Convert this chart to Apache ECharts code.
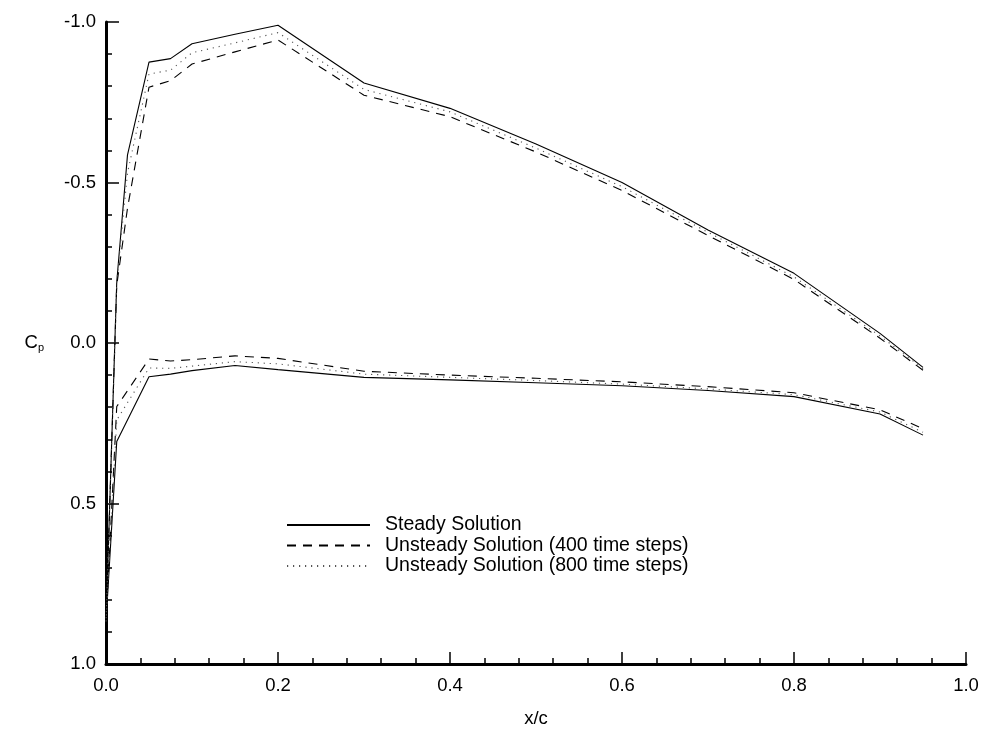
<!DOCTYPE html>
<html>
<head>
<meta charset="utf-8">
<title>Surface pressure coefficient</title>
<script src="https://cdn.jsdelivr.net/npm/echarts@6/dist/echarts.min.js"></script>
<style>
  html, body { margin: 0; padding: 0; background: #ffffff; }
  #chart { width: 984px; height: 739px; }
</style>
</head>
<body>
<div id="chart"></div>
<script>
// Chordwise stations (x/c) on the upper and lower surfaces
const upperX = [0, 0.0125, 0.025, 0.05, 0.075, 0.1, 0.15, 0.2, 0.3, 0.4, 0.5, 0.6, 0.7, 0.8, 0.9, 0.95];
const lowerX = [0.0125, 0.05, 0.075, 0.1, 0.15, 0.2, 0.3, 0.4, 0.5, 0.6, 0.7, 0.8, 0.9, 0.95];

// Pressure coefficient, upper surface
const steadyUpper = [0.87, -0.19, -0.586, -0.875, -0.886, -0.932, -0.962, -0.99, -0.81, -0.731, -0.62, -0.50, -0.352, -0.217, -0.03, 0.076];
const unsteady400Upper = [0.87, -0.18, -0.42, -0.797, -0.817, -0.869, -0.907, -0.944, -0.772, -0.705, -0.595, -0.475, -0.335, -0.198, -0.015, 0.085];
const unsteady800Upper = [0.87, -0.19, -0.53, -0.838, -0.85, -0.904, -0.935, -0.967, -0.79, -0.72, -0.607, -0.487, -0.345, -0.206, -0.022, 0.08];

// Pressure coefficient, lower surface
const steadyLower = [0.307, 0.105, 0.097, 0.086, 0.07, 0.083, 0.107, 0.115, 0.124, 0.133, 0.148, 0.167, 0.221, 0.287];
const unsteady400Lower = [0.198, 0.05, 0.056, 0.052, 0.04, 0.048, 0.088, 0.1, 0.11, 0.121, 0.136, 0.155, 0.208, 0.267];
const unsteady800Lower = [0.24, 0.078, 0.079, 0.072, 0.058, 0.065, 0.097, 0.107, 0.117, 0.128, 0.143, 0.161, 0.215, 0.278];

const seriesNames = ['Steady Solution', 'Unsteady Solution (400 time steps)', 'Unsteady Solution (800 time steps)'];
const yTicks = [-1.0, -0.5, 0.0, 0.5, 1.0];
const xTicks = [0.0, 0.2, 0.4, 0.6, 0.8, 1.0];

// One trace per solution: trailing edge -> upper surface -> leading edge -> lower surface
function surfaceTrace(upper, lower) {
  const pts = [];
  for (let i = upperX.length - 1; i >= 0; i--) pts.push([upperX[i], upper[i]]);
  for (let i = 0; i < lowerX.length; i++) pts.push([lowerX[i], lower[i]]);
  return pts;
}

const font = 'Liberation Sans, Arial, Helvetica, sans-serif';
const chart = echarts.init(document.getElementById('chart'), null, { renderer: 'canvas' });

const lineStyles = [
  { color: '#000000', width: 1.1, type: 'solid' },
  { color: '#000000', width: 1.1, type: [9, 7] },
  { color: '#555555', width: 1.1, type: [1.2, 4.8] }
];

const traces = [
  surfaceTrace(steadyUpper, steadyLower),
  surfaceTrace(unsteady400Upper, unsteady400Lower),
  surfaceTrace(unsteady800Upper, unsteady800Lower)
];

chart.setOption({
  animation: false,
  backgroundColor: '#ffffff',
  grid: { left: 106, right: 18, top: 22, bottom: 75, containLabel: false },
  legend: {
    orient: 'vertical',
    left: 281,
    top: 510,
    itemWidth: 83,
    itemHeight: 12,
    itemGap: 0.5,
    data: seriesNames,
    itemStyle: { opacity: 0, borderWidth: 0 },
    textStyle: { fontFamily: font, fontSize: 19.5, color: '#000000', padding: [0, 0, 0, 10] }
  },
  xAxis: {
    type: 'value',
    min: 0,
    max: 1,
    interval: 0.2,
    name: 'x/c',
    nameLocation: 'middle',
    nameGap: 45,
    nameTextStyle: { fontFamily: font, fontSize: 18.5, color: '#000000' },
    axisLine: { show: true, onZero: false, lineStyle: { color: '#000000', width: 3 } },
    axisTick: { show: true, inside: true, length: 12, lineStyle: { color: '#000000', width: 1.5 } },
    minorTick: { show: true, splitNumber: 5, length: 6, lineStyle: { color: '#000000', width: 1.5 } },
    splitLine: { show: false },
    axisLabel: {
      margin: 12,
      fontFamily: font, fontSize: 18.5, color: '#000000',
      formatter: function (v) { return xTicks.some(t => Math.abs(t - v) < 1e-9) ? v.toFixed(1) : ''; }
    }
  },
  yAxis: {
    type: 'value',
    inverse: true,
    min: -1,
    max: 1,
    interval: 0.5,
    name: '{c|C}{p|p}',
    nameLocation: 'middle',
    nameGap: 62,
    nameRotate: 0,
    nameTextStyle: {
      rich: {
        c: { fontFamily: font, fontSize: 18.5, color: '#000000' },
        p: { fontFamily: font, fontSize: 11, color: '#000000', padding: [10, 0, 0, 0] }
      }
    },
    axisLine: { show: true, onZero: false, lineStyle: { color: '#000000', width: 3 } },
    axisTick: { show: true, inside: true, length: 13, lineStyle: { color: '#000000', width: 1.5 } },
    minorTick: { show: true, splitNumber: 5, length: 6, lineStyle: { color: '#000000', width: 1.5 } },
    splitLine: { show: false },
    axisLabel: {
      margin: 10,
      fontFamily: font, fontSize: 18.5, color: '#000000',
      formatter: function (v) { return yTicks.some(t => Math.abs(t - v) < 1e-9) ? v.toFixed(1) : ''; }
    }
  },
  series: traces.map((pts, i) => ({
    name: seriesNames[i],
    type: 'line',
    data: pts,
    symbol: 'none',
    showSymbol: false,
    smooth: false,
    clip: false,
    lineStyle: lineStyles[i],
    itemStyle: { color: lineStyles[i].color }
  }))
});
</script>
</body>
</html>
